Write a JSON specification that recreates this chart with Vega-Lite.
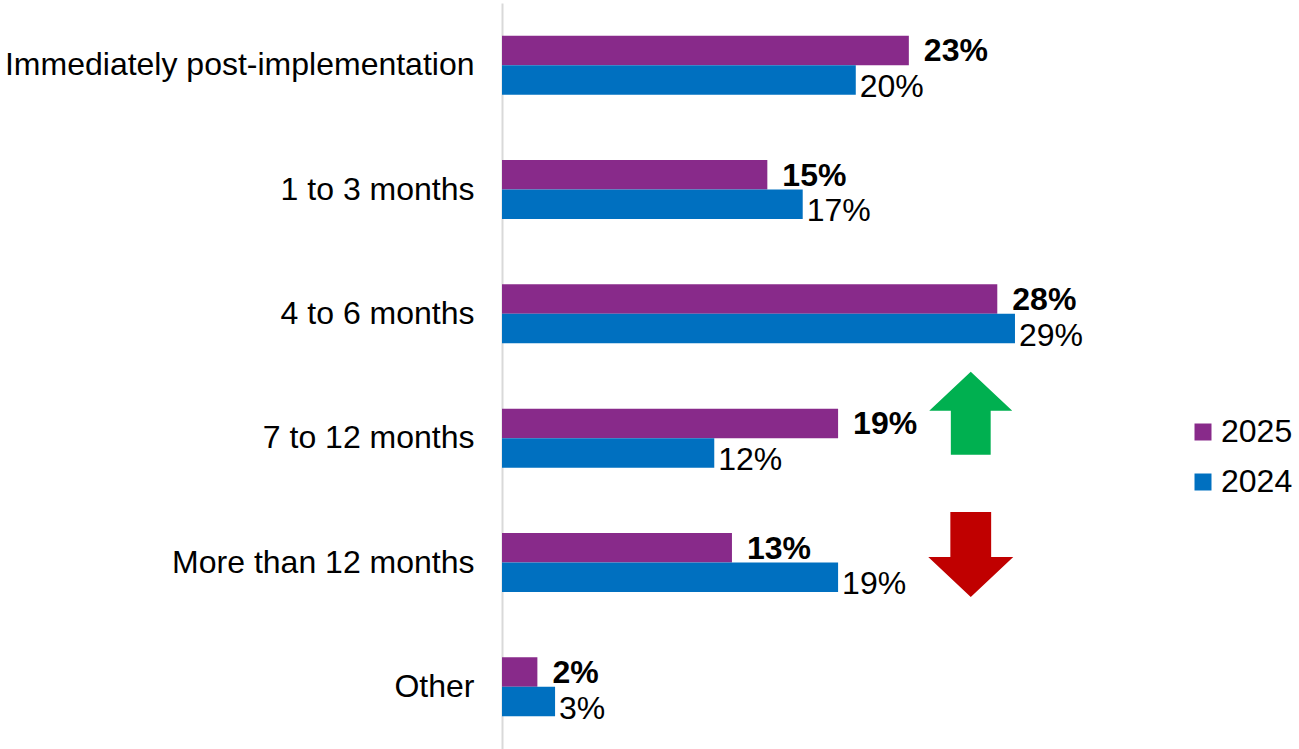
{
  "$schema": "https://vega.github.io/schema/vega-lite/v6.json",
  "autosize": "none",
  "padding": {"left": 502, "top": 3, "right": 1, "bottom": 0},
  "width": 796,
  "height": 746,
  "config": {
    "view": {"stroke": null},
    "font": "Liberation Sans",
    "text": {"font": "Liberation Sans"}
  },
  "datasets": {
    "bars": [
      {"category": "Immediately post-implementation", "year": "2025", "value": 0.23},
      {"category": "Immediately post-implementation", "year": "2024", "value": 0.20},
      {"category": "1 to 3 months", "year": "2025", "value": 0.15},
      {"category": "1 to 3 months", "year": "2024", "value": 0.17},
      {"category": "4 to 6 months", "year": "2025", "value": 0.28},
      {"category": "4 to 6 months", "year": "2024", "value": 0.29},
      {"category": "7 to 12 months", "year": "2025", "value": 0.19},
      {"category": "7 to 12 months", "year": "2024", "value": 0.12},
      {"category": "More than 12 months", "year": "2025", "value": 0.13},
      {"category": "More than 12 months", "year": "2024", "value": 0.19},
      {"category": "Other", "year": "2025", "value": 0.02},
      {"category": "Other", "year": "2024", "value": 0.03}
    ],
    "arrows": [
      {"category": "7 to 12 months", "dir": "up", "pos": 0.265},
      {"category": "More than 12 months", "dir": "down", "pos": 0.265}
    ]
  },
  "layer": [
    {
      "data": {"name": "bars"},
      "mark": {"type": "bar"},
      "encoding": {
        "y": {
          "field": "category", "type": "nominal",
          "sort": ["Immediately post-implementation", "1 to 3 months", "4 to 6 months", "7 to 12 months", "More than 12 months", "Other"],
          "scale": {"paddingInner": 0.525, "paddingOuter": 0.2625},
          "axis": {
            "title": null, "ticks": false, "grid": false,
            "domainColor": "#D9D9D9", "domainWidth": 2,
            "labelFontSize": 32, "labelColor": "#000000", "labelFont": "Liberation Sans",
            "labelPadding": 28, "labelLimit": 600
          }
        },
        "yOffset": {"field": "year", "type": "nominal", "sort": ["2025", "2024"], "scale": {"paddingInner": 0}},
        "x": {"field": "value", "type": "quantitative", "scale": {"domain": [0, 0.45]}, "axis": null},
        "color": {
          "field": "year", "type": "nominal",
          "scale": {"domain": ["2025", "2024"], "range": ["#882A8A", "#0070C0"]},
          "legend": {
            "title": null, "orient": "none", "legendX": 685, "legendY": 413,
            "symbolType": "square", "symbolSize": 289, "symbolStrokeWidth": 0,
            "labelFontSize": 32, "labelColor": "#000000", "labelFont": "Liberation Sans",
            "rowPadding": 18, "labelOffset": 2
          }
        }
      }
    },
    {
      "data": {"name": "bars"},
      "transform": [{"filter": "datum.year === '2025'"}],
      "mark": {"type": "text", "align": "left", "baseline": "middle", "dx": 15, "dy": 1, "fontSize": 32, "fontWeight": "bold", "color": "#000000"},
      "encoding": {
        "y": {"field": "category", "type": "nominal", "sort": ["Immediately post-implementation", "1 to 3 months", "4 to 6 months", "7 to 12 months", "More than 12 months", "Other"]},
        "yOffset": {"field": "year", "type": "nominal", "sort": ["2025", "2024"]},
        "x": {"field": "value", "type": "quantitative"},
        "text": {"field": "value", "type": "quantitative", "format": ".0%"}
      }
    },
    {
      "data": {"name": "bars"},
      "transform": [{"filter": "datum.year === '2024'"}],
      "mark": {"type": "text", "align": "left", "baseline": "middle", "dx": 4, "dy": 7, "fontSize": 32, "color": "#000000"},
      "encoding": {
        "y": {"field": "category", "type": "nominal", "sort": ["Immediately post-implementation", "1 to 3 months", "4 to 6 months", "7 to 12 months", "More than 12 months", "Other"]},
        "yOffset": {"field": "year", "type": "nominal", "sort": ["2025", "2024"]},
        "x": {"field": "value", "type": "quantitative"},
        "text": {"field": "value", "type": "quantitative", "format": ".0%"}
      }
    },
    {
      "data": {"name": "arrows"},
      "transform": [{"filter": "datum.dir === 'up'"}],
      "mark": {"type": "point", "filled": true, "color": "#00B050", "opacity": 1, "size": 6889, "yOffset": -25,
        "shape": "M0,-1 L1,-0.06 L0.48,-0.06 L0.48,1 L-0.48,1 L-0.48,-0.06 L-1,-0.06 Z"},
      "encoding": {
        "y": {"field": "category", "type": "nominal", "sort": ["Immediately post-implementation", "1 to 3 months", "4 to 6 months", "7 to 12 months", "More than 12 months", "Other"]},
        "x": {"field": "pos", "type": "quantitative"}
      }
    },
    {
      "data": {"name": "arrows"},
      "transform": [{"filter": "datum.dir === 'down'"}],
      "mark": {"type": "point", "filled": true, "color": "#C00000", "opacity": 1, "size": 7225, "yOffset": -8,
        "shape": "M-0.48,-1 L0.48,-1 L0.48,0.06 L1,0.06 L0,1 L-1,0.06 L-0.48,0.06 Z"},
      "encoding": {
        "y": {"field": "category", "type": "nominal", "sort": ["Immediately post-implementation", "1 to 3 months", "4 to 6 months", "7 to 12 months", "More than 12 months", "Other"]},
        "x": {"field": "pos", "type": "quantitative"}
      }
    }
  ]
}
